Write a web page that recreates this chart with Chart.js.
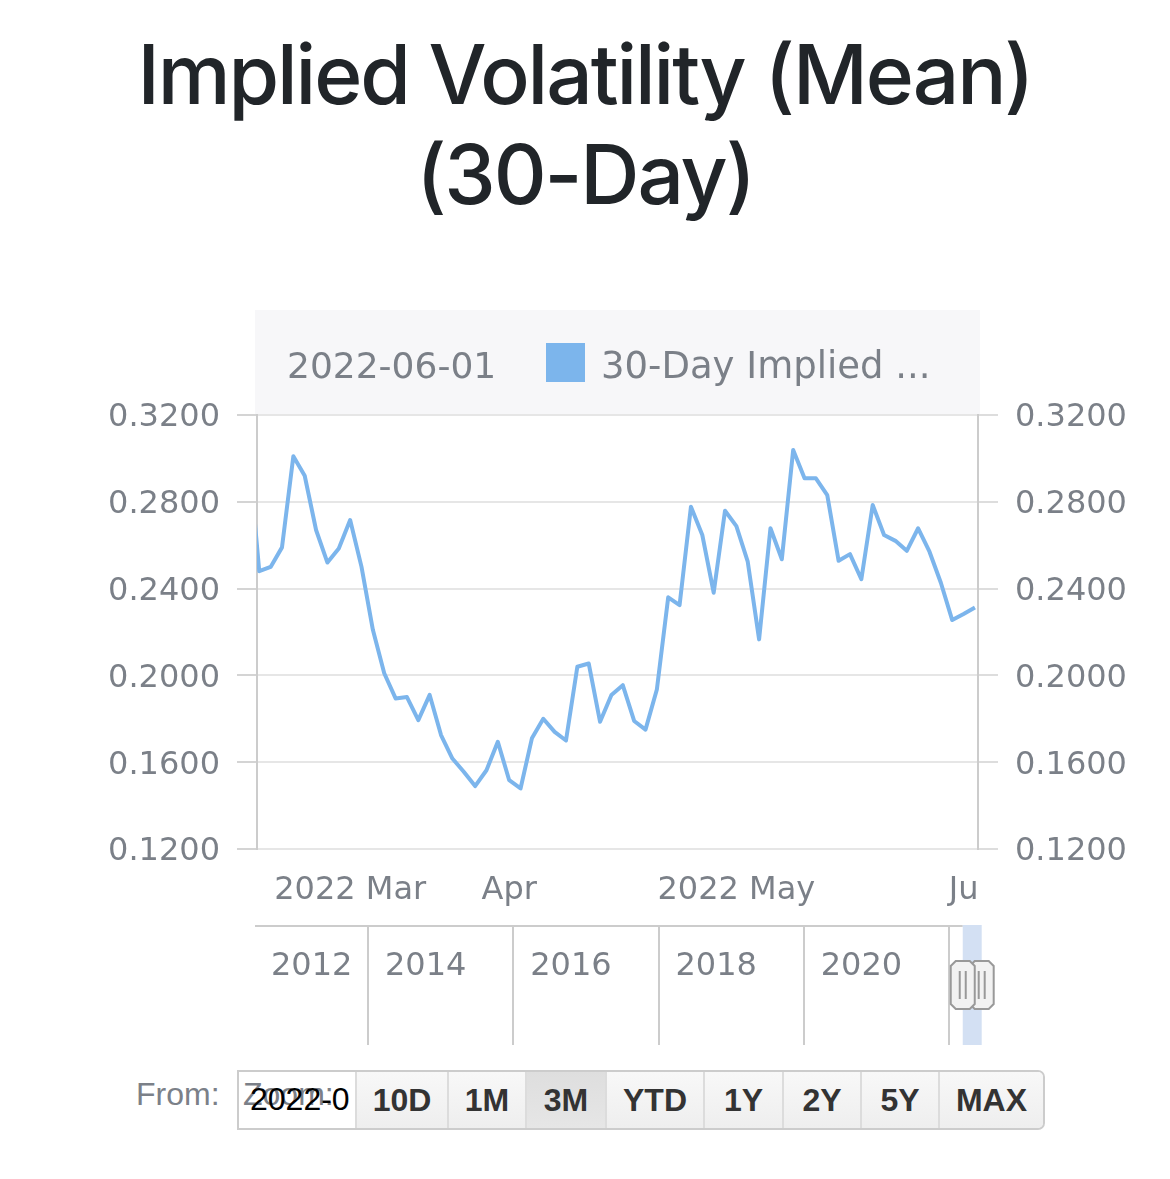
<!DOCTYPE html>
<html>
<head>
<meta charset="utf-8">
<script src="https://cdn.jsdelivr.net/npm/chart.js@4.4.1/dist/chart.umd.min.js"></script>
<style>
html,body{margin:0;padding:0;background:#ffffff;}
body{width:1170px;height:1179px;position:relative;overflow:hidden;}
#title{position:absolute;left:0;top:25px;width:1170px;text-align:center;font-family:Inter,"Noto Sans",sans-serif;font-weight:500;font-size:82px;line-height:100px;letter-spacing:-2.1px;color:#212529;white-space:nowrap;}
#main{position:absolute;left:0;top:300px;width:1170px;height:620px;}
#nav{position:absolute;left:0;top:920px;width:1170px;height:130px;}
#from{position:absolute;left:136px;top:1076px;font-family:"Liberation Sans",Arial,sans-serif;font-size:32px;line-height:36px;color:#7b8088;}
#rs{position:absolute;left:237px;top:1070px;width:808px;height:60px;box-sizing:border-box;border:2px solid #cccccc;border-radius:0 7px 7px 0;display:flex;overflow:hidden;background:#f4f4f4;}
.inp{width:116px;flex:none;background:#ffffff;position:relative;overflow:hidden;font-family:"Liberation Sans",Arial,sans-serif;font-size:32px;line-height:36px;}
.inp .z{position:absolute;left:4px;top:4px;color:#7b8088;}
.inp .d{position:absolute;left:11px;top:9px;color:#000000;}
.btn{flex:none;box-sizing:border-box;border-left:2px solid #dcdcdc;text-align:center;font-family:"Liberation Sans",Arial,sans-serif;font-weight:bold;font-size:32px;line-height:56px;color:#333333;background:linear-gradient(#f8f8f8,#eeeeee);}
.btn.sel{background:linear-gradient(#dedede,#e6e6e6);}
</style>
</head>
<body>
<div id="title">Implied Volatility (Mean)<br>(30-Day)</div>
<div id="main"><canvas id="mainCanvas"></canvas></div>
<div id="nav"><canvas id="navCanvas"></canvas></div>
<div id="from">From:</div>
<div id="rs">
  <div class="inp"><span class="z">Zoom:</span><span class="d">2022-0</span></div>
</div>
<script>
// ---- data ----
const values = [
  0.306, 0.248, 0.250, 0.259, 0.301, 0.292, 0.267, 0.252, 0.2585, 0.2716,
  0.250, 0.221, 0.201, 0.1894, 0.190, 0.1794, 0.191, 0.1725, 0.1617, 0.1556,
  0.149, 0.1563, 0.1694, 0.1517, 0.1479, 0.171, 0.180, 0.174, 0.170, 0.204,
  0.2055, 0.1786, 0.191, 0.1955, 0.179, 0.175, 0.1935, 0.236, 0.2324, 0.2777,
  0.2647, 0.2381, 0.2759, 0.2688, 0.2524, 0.2166, 0.2678, 0.2535, 0.3039, 0.2908,
  0.2908, 0.2831, 0.2528, 0.2559, 0.2443, 0.2785, 0.2647, 0.262, 0.2574, 0.2678,
  0.257, 0.2427, 0.2255, 0.2283, 0.2313
];
const monthTickIndex = [9, 23, 43, 63];
const monthTickLabels = ['2022 Mar', 'Apr', '2022 May', 'Ju'];
const yTickValues = [0.12, 0.16, 0.20, 0.24, 0.28, 0.32];
const seriesName = '30-Day Implied ...';
const hoverDate = '2022-06-01';
const navTickYears = [2014, 2016, 2018, 2020, 2022];
const navLabelYears = [2012, 2014, 2016, 2018, 2020];
const navRange = [2012.444, 2022.45];
const navSelection = [2022.189, 2022.45];
const rangeButtons = ['10D', '1M', '3M', 'YTD', '1Y', '2Y', '5Y', 'MAX'];
const rangeButtonWidths = [92, 78, 80, 98, 79, 78, 78, 105];
const selectedButton = '3M';

// ---- range selector buttons ----
const rs = document.getElementById('rs');
rangeButtons.forEach((b, i) => {
  const d = document.createElement('div');
  d.className = 'btn' + (b === selectedButton ? ' sel' : '');
  d.style.width = rangeButtonWidths[i] + 'px';
  d.textContent = b;
  rs.appendChild(d);
});

const lineColor = '#7cb5ec';
const textGray = '#7b8088';
Chart.defaults.font.family = '"DejaVu Sans", sans-serif';
Chart.defaults.color = textGray;

const headerPlugin = {
  id: 'header',
  beforeDraw(chart) {
    const { ctx, chartArea } = chart;
    ctx.save();
    ctx.fillStyle = '#f7f7f9';
    ctx.fillRect(chartArea.left - 2, 10, chartArea.right - chartArea.left + 4, chartArea.top - 10);
    ctx.textBaseline = 'alphabetic';
    ctx.textAlign = 'left';
    ctx.fillStyle = textGray;
    ctx.font = '36px "DejaVu Sans"';
    ctx.fillText(hoverDate, chartArea.left + 30, 78);
    ctx.fillStyle = lineColor;
    ctx.fillRect(chartArea.left + 289, 43, 39, 39);
    ctx.fillStyle = textGray;
    ctx.font = '37px "DejaVu Sans"';
    ctx.fillText(seriesName, chartArea.left + 344, 78);
    ctx.restore();
  }
};

new Chart(document.getElementById('mainCanvas'), {
  type: 'line',
  data: {
    datasets: [{
      label: seriesName,
      data: values.map((v, i) => ({ x: i, y: v })),
      borderColor: lineColor,
      borderWidth: 4,
      pointRadius: 0,
      tension: 0,
      borderJoinStyle: 'round',
      yAxisID: 'y'
    }]
  },
  options: {
    animation: false,
    responsive: true,
    maintainAspectRatio: false,
    layout: { padding: { top: 115, left: 0, right: 0, bottom: 0 } },
    plugins: { legend: { display: false }, tooltip: { enabled: false } },
    scales: {
      x: {
        type: 'linear', min: 0.8, max: 64.27,
        grid: { display: false }, border: { display: false },
        afterBuildTicks: s => { s.ticks = monthTickIndex.map(v => ({ value: v })); },
        ticks: {
          autoSkip: false, maxRotation: 0, minRotation: 0, padding: 14,
          font: { size: 32 },
          callback: v => { const k = monthTickIndex.indexOf(v); return k >= 0 ? monthTickLabels[k] : ''; }
        },
        afterFit: s => { s.height = 71; }
      },
      y: {
        position: 'left', min: 0.12, max: 0.32,
        afterBuildTicks: s => { s.ticks = yTickValues.map(v => ({ value: v })); },
        ticks: { padding: 17, labelOffset: 3, font: { size: 32 }, callback: v => Number(v).toFixed(4) },
        grid: { color: '#e6e6e6', lineWidth: 2, tickLength: 20, tickColor: '#d4d4d4' },
        border: { color: '#cccccc', width: 2 },
        afterFit: s => { s.width = 257; }
      },
      y2: {
        position: 'right', min: 0.12, max: 0.32,
        afterBuildTicks: s => { s.ticks = yTickValues.map(v => ({ value: v })); },
        ticks: { padding: 17, labelOffset: 3, font: { size: 32 }, callback: v => Number(v).toFixed(4) },
        grid: { drawOnChartArea: false, lineWidth: 2, tickLength: 20, color: '#dddddd' },
        border: { color: '#cccccc', width: 2 },
        afterFit: s => { s.width = 192; }
      }
    }
  },
  plugins: [headerPlugin]
});

function drawHandle(ctx, cx, top, bottom) {
  const w = 12, b = 5;
  ctx.beginPath();
  ctx.moveTo(cx - w + b, top);
  ctx.lineTo(cx + w - b, top);
  ctx.lineTo(cx + w, top + b);
  ctx.lineTo(cx + w, bottom - b);
  ctx.lineTo(cx + w - b, bottom);
  ctx.lineTo(cx - w + b, bottom);
  ctx.lineTo(cx - w, bottom - b);
  ctx.lineTo(cx - w, top + b);
  ctx.closePath();
  ctx.fillStyle = '#f2f2f2';
  ctx.fill();
  ctx.lineWidth = 2;
  ctx.strokeStyle = '#999999';
  ctx.stroke();
  ctx.beginPath();
  ctx.moveTo(cx - 3, top + 10); ctx.lineTo(cx - 3, bottom - 10);
  ctx.moveTo(cx + 3, top + 10); ctx.lineTo(cx + 3, bottom - 10);
  ctx.stroke();
}

const navPlugin = {
  id: 'navigator',
  afterDraw(chart) {
    const { ctx, chartArea } = chart;
    const xs = chart.scales.x;
    const p0 = xs.getPixelForValue(navSelection[0]);
    const p1 = xs.getPixelForValue(navSelection[1]);
    ctx.save();
    ctx.strokeStyle = '#cccccc';
    ctx.lineWidth = 2;
    ctx.beginPath();
    ctx.moveTo(chartArea.left, chartArea.top + 1);
    ctx.lineTo(p0, chartArea.top + 1);
    ctx.stroke();
    ctx.font = '32px "DejaVu Sans"';
    ctx.fillStyle = textGray;
    ctx.textBaseline = 'alphabetic';
    ctx.textAlign = 'left';
    navLabelYears.forEach(yr => {
      const px = xs.getPixelForValue(Math.max(yr, navRange[0]));
      ctx.fillText(String(yr), px + (yr < navRange[0] ? 16 : 17), 55);
    });
    ctx.fillStyle = '#d3e0f3';
    ctx.fillRect(p0, chartArea.top, p1 - p0, chartArea.bottom - chartArea.top);
    drawHandle(ctx, p1, 41, 89);
    drawHandle(ctx, p0, 41, 89);
    ctx.restore();
  }
};

new Chart(document.getElementById('navCanvas'), {
  type: 'line',
  data: { datasets: [] },
  options: {
    animation: false,
    responsive: true,
    maintainAspectRatio: false,
    layout: { padding: { left: 255, right: 188.3, top: 5, bottom: 5 } },
    plugins: { legend: { display: false }, tooltip: { enabled: false } },
    scales: {
      x: {
        type: 'linear', min: navRange[0], max: navRange[1],
        afterBuildTicks: s => { s.ticks = navTickYears.map(v => ({ value: v })); },
        ticks: { display: false },
        grid: { color: '#cccccc', lineWidth: 2, drawTicks: false },
        border: { display: false },
        afterFit: s => { s.height = 0; }
      },
      y: { display: false, min: 0, max: 1 }
    }
  },
  plugins: [navPlugin]
});
</script>
</body>
</html>
